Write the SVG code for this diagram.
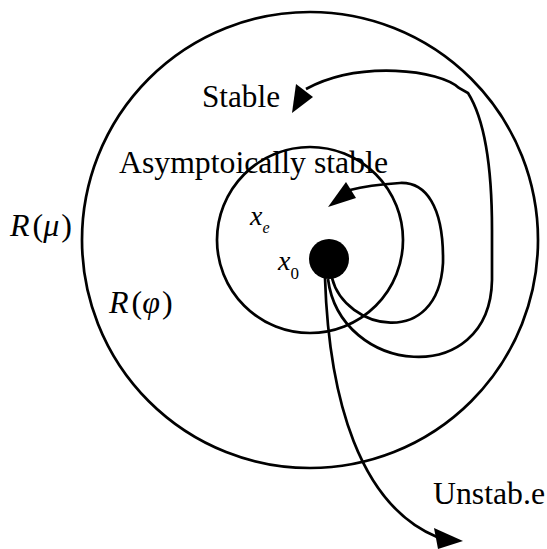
<svg xmlns="http://www.w3.org/2000/svg" width="547" height="549" viewBox="0 0 547 549">
<style>
.ln{fill:none;stroke:#000;stroke-width:2.7}
.ah{fill:#000;stroke:none}
.lbl{font-family:"Liberation Serif","Times New Roman",serif;font-size:31px;fill:#000}
.math{font-family:"Liberation Serif","Times New Roman",serif;font-size:32px;fill:#000}
.it{font-style:italic}
.sym{font-family:"Liberation Serif","Times New Roman",serif;fill:#000}
</style>
<rect width="547" height="549" fill="#fff"/>
<g id="region-mu">
<circle class="ln" cx="310" cy="240" r="228"/>
</g>
<g id="region-phi">
<circle class="ln" cx="310" cy="240" r="93"/>
</g>
<g id="x0-point">
<circle cx="329" cy="259" r="20" fill="#000"/>
</g>
<g id="connectors">
<path id="stable-traj" class="ln" d="M328,279 C340,375 490,390 492,280 L492,230 C492,170 485,120 468,93 L459,88 C440,70 360,60 306,89"/>
<polygon class="ah" points="292,113 296,84 313,97"/>
<path id="asym-traj" class="ln" d="M332,278 C345,330 438,350 443,263 C444,205 425,182 400,183 C385,184 365,186 350,190"/>
<polygon class="ah" points="328,207 346,182 356,198"/>
<path id="unstable-traj" class="ln" d="M325,278 C329,400 360,505 437,537"/>
<polygon class="ah" points="463,541 434,528 438,549"/>
</g>
<g id="labels">
<text class="lbl" x="202" y="107" textLength="78" lengthAdjust="spacingAndGlyphs">Stable</text>
<text class="lbl" x="119" y="173" textLength="269" lengthAdjust="spacingAndGlyphs">Asymptoically stable</text>
<text class="lbl" x="433" y="504" textLength="112" lengthAdjust="spacingAndGlyphs">Unstab.e</text>
<text class="math" x="10" y="236"><tspan class="it">R</tspan><tspan dx="3">(</tspan><tspan class="it">μ</tspan><tspan dx="2">)</tspan></text>
<text class="math" x="109" y="313"><tspan class="it">R</tspan><tspan dx="3">(</tspan><tspan class="it">φ</tspan><tspan dx="2">)</tspan></text>
<text class="sym it" x="250" y="225" font-size="28">x<tspan font-size="16" dy="8">e</tspan></text>
<text class="sym" x="278" y="270" font-size="28"><tspan class="it">x</tspan><tspan font-size="17" dy="9">0</tspan></text>
</g>
</svg>
